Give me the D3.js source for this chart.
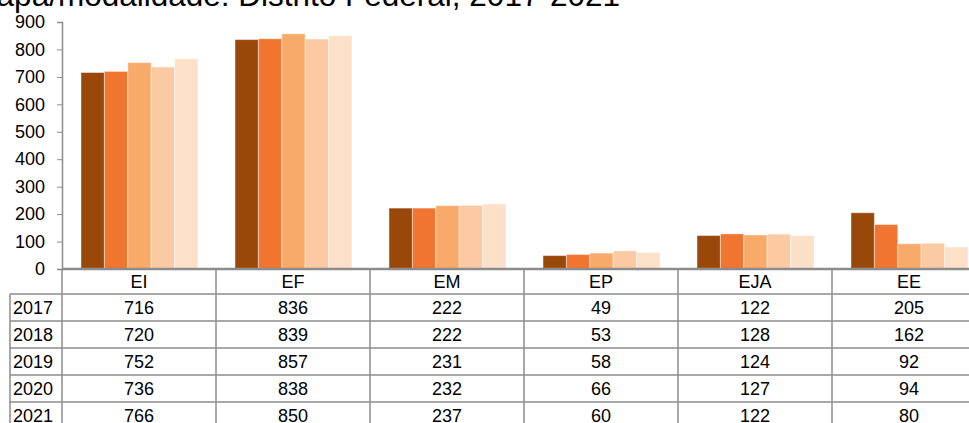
<!DOCTYPE html>
<html lang="pt">
<head>
<meta charset="utf-8">
<title>Etapa/modalidade: Distrito Federal, 2017-2021</title>
<script src="https://cdn.jsdelivr.net/npm/d3@7"></script>
<style>
    body { margin: 0; background: #fff; }
    svg { display: block; font-family: Arial, "Liberation Sans", sans-serif; }
    .axis path, .axis line { stroke: #8c8c8c; }
    .axis text { font-size: 18px; fill: #000; }
    .grid { stroke: #8c8c8c; stroke-width: 1.5; fill: none; }
    .cell { font-size: 18px; fill: #000; }
</style>
</head>
<body>
<div id="chart"></div>
<script>
// data
const categories = ["EI", "EF", "EM", "EP", "EJA", "EE"];
const years = ["2017", "2018", "2019", "2020", "2021"];
const v2017 = [716, 836, 222, 49, 122, 205];
const v2018 = [720, 839, 222, 53, 128, 162];
const v2019 = [752, 857, 231, 58, 124, 92];
const v2020 = [736, 838, 232, 66, 127, 94];
const v2021 = [766, 850, 237, 60, 122, 80];
const yTicks = [0, 100, 200, 300, 400, 500, 600, 700, 800, 900];
const colours = ["#9a480a", "#f07531", "#f8aa6a", "#fbcaa2", "#fde0c8"];

const series = [v2017, v2018, v2019, v2020, v2021];

const WIDTH = 969, HEIGHT = 423;
const MARGIN = { top: 22, left: 62, bottom: 269 };
const COLW = 154;
const HEADER_H = 25, ROW_H = 27;
const LABEL_X = 10;

let svg = d3.select("#chart").append("svg")
    .attr("width", WIDTH)
    .attr("height", HEIGHT);

// title (cut off at the top/left in the original)
svg.append("text")
    .attr("x", 620)
    .attr("y", 6)
    .attr("text-anchor", "end")
    .style("font-size", "31.5px")
    .text("Etapa/modalidade: Distrito Federal, 2017-2021");

let xScale = d3.scaleBand()
    .domain(categories)
    .range([MARGIN.left, MARGIN.left + COLW * categories.length])
    .paddingInner(0)
    .paddingOuter(0);

let xInner = d3.scaleBand()
    .domain(years)
    .range([19, 19 + 117]);

let yScale = d3.scaleLinear()
    .domain([0, 900])
    .range([MARGIN.bottom, MARGIN.top]);

// bars
let groups = svg.selectAll(".grp")
    .data(categories)
    .enter().append("g")
    .attr("class", "grp")
    .attr("transform", d => "translate(" + xScale(d) + ",0)");

groups.selectAll("rect")
    .data((c, ci) => years.map((y, yi) => ({ year: y, i: yi, value: series[yi][ci] })))
    .enter().append("rect")
    .attr("x", d => xInner(d.year))
    .attr("width", xInner.bandwidth())
    .attr("y", d => yScale(d.value))
    .attr("height", d => yScale(0) - yScale(d.value))
    .attr("fill", d => colours[d.i])
    .attr("stroke", "#ffffff")
    .attr("stroke-opacity", 0.45)
    .attr("stroke-width", 1);

// y axis
let yAxis = d3.axisLeft(yScale)
    .tickValues(yTicks)
    .tickSize(5)
    .tickPadding(12);

let yg = svg.append("g")
    .attr("class", "axis")
    .attr("transform", "translate(" + MARGIN.left + ",0)")
    .call(yAxis);
yg.select(".domain").attr("stroke-width", 1.5);

// table
let tableTop = MARGIN.bottom;
let rowsTop = tableTop + HEADER_H;
let tableBottom = rowsTop + ROW_H * years.length;
let tableRight = MARGIN.left + COLW * categories.length;

// horizontal lines
svg.append("line").attr("class", "grid")
    .attr("x1", MARGIN.left).attr("x2", tableRight)
    .attr("y1", tableTop).attr("y2", tableTop)
    .style("stroke-width", 2.5);
years.forEach((y, i) => {
    let yy = rowsTop + ROW_H * i;
    svg.append("line").attr("class", "grid")
        .attr("x1", LABEL_X).attr("x2", tableRight)
        .attr("y1", yy).attr("y2", yy);
});

// vertical lines
svg.append("line").attr("class", "grid")
    .attr("x1", LABEL_X).attr("x2", LABEL_X)
    .attr("y1", rowsTop).attr("y2", tableBottom);
d3.range(categories.length + 1).forEach(k => {
    let xx = MARGIN.left + COLW * k;
    svg.append("line").attr("class", "grid")
        .attr("x1", xx).attr("x2", xx)
        .attr("y1", tableTop).attr("y2", tableBottom);
});

// header labels
svg.selectAll(".hdr")
    .data(categories)
    .enter().append("text")
    .attr("class", "cell")
    .attr("x", d => xScale(d) + COLW / 2)
    .attr("y", tableTop + HEADER_H / 2 + 6.4)
    .attr("text-anchor", "middle")
    .text(d => d);

// year labels and values
years.forEach((y, yi) => {
    let cy = rowsTop + ROW_H * yi + ROW_H / 2 + 6;
    svg.append("text")
        .attr("class", "cell")
        .attr("x", LABEL_X + 3)
        .attr("y", cy)
        .text(y);
    svg.selectAll(".val" + y)
        .data(categories)
        .enter().append("text")
        .attr("class", "cell")
        .attr("x", d => xScale(d) + COLW / 2)
        .attr("y", cy)
        .attr("text-anchor", "middle")
        .text((d, ci) => series[yi][ci]);
});
</script>
</body>
</html>
